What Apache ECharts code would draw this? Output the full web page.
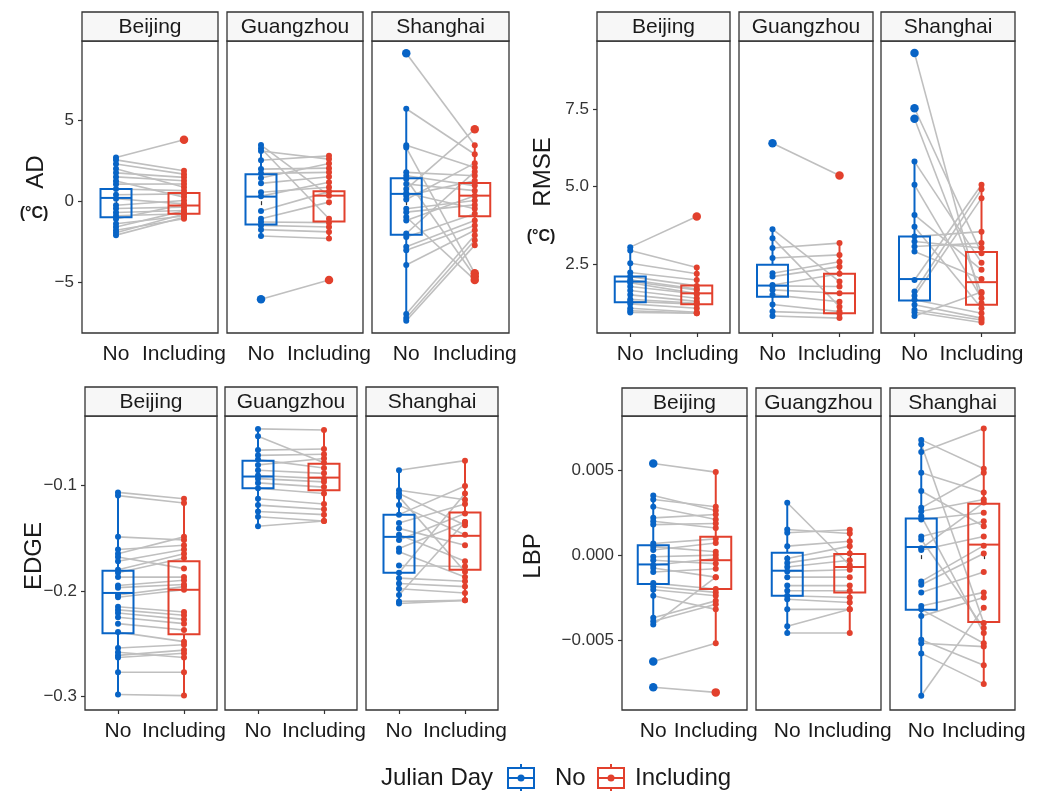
<!DOCTYPE html>
<html><head><meta charset="utf-8">
<script src="https://cdn.jsdelivr.net/npm/echarts@6/dist/echarts.min.js"></script>
<style>html,body{margin:0;padding:0;background:#fff}#c{width:1051px;height:791px}</style>
</head><body><div id="c"></div>
<script>
// ---------------- DATA ----------------
const cities = ['Beijing', 'Guangzhou', 'Shanghai'];
const conditions = ['No', 'Including'];
const metrics = ['AD', 'RMSE', 'EDGE', 'LBP'];
const legendTitle = 'Julian Day';
const unitLabel = '(°C)';

// paired values (one pair per station): No / Including
const AD_Beijing_No        = [2.70, 2.55, 2.30, 2.00, 1.75, 1.50, 1.25, 1.05, 0.75, 0.40, 0.15, -0.25, -0.45, -0.70, -0.90, -1.10, -1.40, -1.60, -1.80, -1.95, -2.10];
const AD_Beijing_Including = [3.80, 1.88, 1.67, 0.86, 1.47, 1.26, 0.25, 1.06, 0.65, 0.45, -0.17, 0.04, -0.37, -0.58, -0.78, -0.20, -0.92, -0.60, -1.09, -0.80, -1.00];
const AD_Guangzhou_No        = [3.47, 3.27, 3.10, 2.53, 1.98, 1.72, 1.43, 1.10, 0.55, 0.31, -0.61, -1.09, -1.29, -1.50, -1.76, -2.15, -6.06];
const AD_Guangzhou_Including = [0.34, -1.09, 2.60, 2.80, 2.04, 1.78, 2.33, 1.51, 0.86, 1.17, 0.59, -0.06, -1.33, -1.60, -1.90, -2.31, -4.87];
const AD_Shanghai_No        = [9.14, 5.71, 3.45, 3.31, 1.78, 1.57, 1.37, 1.06, 0.75, 0.51, 0.34, 0.10, -0.47, -0.68, -0.98, -1.19, -2.00, -2.21, -2.82, -3.03, -3.95, -6.98, -7.22, -7.39];
const AD_Shanghai_Including = [3.45, 2.90, 2.08, -4.46, 1.57, 0.96, -4.66, 0.65, 4.44, -0.47, 1.26, 2.35, 0.04, -0.23, -4.87, 0.34, 1.82, -0.78, -1.19, -1.50, -1.80, -2.11, -2.42, -2.72];

const RMSE_Beijing_No        = [3.05, 2.94, 2.53, 2.23, 2.10, 2.00, 1.94, 1.90, 1.78, 1.65, 1.51, 1.37, 1.30, 1.22, 1.08, 1.00, 0.94];
const RMSE_Beijing_Including = [4.04, 2.39, 2.19, 1.99, 1.80, 1.70, 1.67, 1.55, 1.54, 1.40, 1.30, 1.24, 1.21, 1.08, 0.95, 0.92, 0.92];
const RMSE_Guangzhou_No        = [6.40, 3.63, 3.34, 3.02, 2.70, 2.21, 2.10, 1.83, 1.80, 1.67, 1.51, 1.20, 0.97, 0.83];
const RMSE_Guangzhou_Including = [5.36, 1.94, 1.13, 3.18, 2.80, 2.58, 2.42, 2.19, 1.78, 1.56, 1.29, 0.97, 0.90, 0.76];
const RMSE_Shanghai_No        = [9.31, 7.53, 7.19, 5.81, 5.06, 4.09, 3.71, 3.39, 3.23, 3.07, 2.91, 1.99, 1.62, 1.48, 1.35, 1.19, 1.03, 0.95, 0.83];
const RMSE_Shanghai_Including = [1.24, 2.85, 1.56, 2.55, 1.40, 2.32, 1.08, 3.55, 3.02, 3.18, 2.02, 5.06, 4.92, 4.63, 0.92, 0.76, 0.70, 0.62, 1.60];

const EDGE_Beijing_No        = [-0.107, -0.110, -0.149, -0.161, -0.165, -0.168, -0.172, -0.180, -0.183, -0.187, -0.195, -0.197, -0.204, -0.206, -0.215, -0.218, -0.221, -0.225, -0.231, -0.239, -0.254, -0.258, -0.261, -0.263, -0.277, -0.298];
const EDGE_Beijing_Including = [-0.113, -0.117, -0.152, -0.157, -0.149, -0.179, -0.161, -0.165, -0.169, -0.187, -0.190, -0.194, -0.196, -0.199, -0.220, -0.223, -0.227, -0.231, -0.237, -0.248, -0.251, -0.263, -0.256, -0.259, -0.277, -0.299];
const EDGE_Guangzhou_No        = [-0.047, -0.054, -0.067, -0.072, -0.076, -0.081, -0.086, -0.091, -0.094, -0.098, -0.103, -0.113, -0.119, -0.125, -0.130, -0.139];
const EDGE_Guangzhou_Including = [-0.048, -0.079, -0.066, -0.071, -0.084, -0.075, -0.089, -0.094, -0.097, -0.102, -0.108, -0.118, -0.123, -0.128, -0.134, -0.134];
const EDGE_Shanghai_No        = [-0.086, -0.105, -0.108, -0.111, -0.119, -0.128, -0.136, -0.141, -0.147, -0.152, -0.160, -0.163, -0.176, -0.183, -0.188, -0.193, -0.198, -0.204, -0.210, -0.212];
const EDGE_Shanghai_Including = [-0.077, -0.114, -0.138, -0.182, -0.147, -0.101, -0.118, -0.157, -0.172, -0.127, -0.135, -0.187, -0.177, -0.108, -0.191, -0.196, -0.202, -0.135, -0.209, -0.209];

const LBP_Beijing_No        = [0.00541, 0.00352, 0.00328, 0.00285, 0.00220, 0.00200, 0.00180, 0.00069, 0.00050, 0.00030, -0.00010, -0.00030, -0.00060, -0.00076, -0.00100, -0.00165, -0.00185, -0.00204, -0.00240, -0.00370, -0.00390, -0.00410, -0.00628, -0.00780];
const LBP_Beijing_Including = [0.00490, 0.00263, 0.00285, 0.00210, 0.00240, 0.00160, 0.00187, 0.00096, 0.00020, 0.00072, 0.00000, -0.00050, -0.00020, -0.00130, -0.00080, -0.00200, -0.00220, -0.00240, -0.00320, -0.00270, -0.00290, -0.00130, -0.00520, -0.00810];
const LBP_Guangzhou_No        = [0.00309, 0.00151, 0.00132, 0.00053, -0.00020, -0.00046, -0.00070, -0.00096, -0.00130, -0.00180, -0.00210, -0.00240, -0.00260, -0.00320, -0.00420, -0.00460];
const LBP_Guangzhou_Including = [-0.00060, 0.00128, 0.00150, 0.00082, 0.00053, 0.00010, -0.00030, -0.00086, -0.00130, -0.00180, -0.00210, -0.00250, -0.00280, -0.00320, -0.00320, -0.00460];
const LBP_Shanghai_No        = [0.00680, 0.00654, 0.00608, 0.00486, 0.00378, 0.00279, 0.00259, 0.00230, 0.00210, 0.00110, 0.00092, 0.00040, 0.00030, -0.00155, -0.00175, -0.00220, -0.00300, -0.00320, -0.00360, -0.00500, -0.00520, -0.00580, -0.00830];
const LBP_Shanghai_Including = [0.00510, -0.00400, 0.00747, 0.00370, 0.00170, 0.00486, 0.00328, -0.00460, 0.00250, 0.00200, -0.00430, 0.00310, 0.00110, 0.00056, 0.00010, -0.00100, -0.00220, -0.00520, -0.00250, -0.00650, -0.00540, -0.00760, -0.00310];

// box statistics [lower whisker, Q1, median, Q3, upper whisker], per city (Beijing, Guangzhou, Shanghai)
const AD_box_No          = [[-2.10, -1.00, 0.20, 0.75, 2.70], [-2.20, -1.44, 0.28, 1.67, 3.47], [-7.40, -2.07, 0.45, 1.41, 5.71]];
const AD_box_Including   = [[-1.10, -0.78, -0.27, 0.51, 1.90], [-2.35, -1.25, 0.34, 0.61, 2.80], [-2.75, -0.94, 0.34, 1.12, 3.45]];
const RMSE_box_No        = [[0.92, 1.27, 1.94, 2.10, 3.05], [0.83, 1.45, 1.81, 2.48, 3.63], [0.83, 1.33, 2.02, 3.39, 5.81]];
const RMSE_box_Including = [[0.90, 1.21, 1.56, 1.81, 2.39], [0.75, 0.92, 1.56, 2.19, 3.18], [0.62, 1.19, 1.92, 2.89, 5.06]];
const EDGE_box_No        = [[-0.298, -0.240, -0.202, -0.181, -0.107], [-0.139, -0.103, -0.092, -0.077, -0.047], [-0.212, -0.183, -0.149, -0.128, -0.086]];
const EDGE_box_Including = [[-0.300, -0.241, -0.199, -0.172, -0.112], [-0.134, -0.105, -0.093, -0.080, -0.048], [-0.209, -0.180, -0.148, -0.126, -0.077]];
const LBP_box_No         = [[-0.0041, -0.0017, -0.00055, 0.00058, 0.0035], [-0.0046, -0.0024, -0.00092, 0.00014, 0.0031], [-0.0083, -0.00322, 0.00048, 0.00216, 0.0068]];
const LBP_box_Including  = [[-0.0052, -0.0020, -0.0003, 0.00108, 0.0049], [-0.0046, -0.0022, -0.0007, 0.00006, 0.0015], [-0.0076, -0.00395, 0.00062, 0.00303, 0.0075]];

// y-axis ranges and tick values
const AD_range = [-8.15, 9.9];
const RMSE_range = [0.28, 9.70];
const EDGE_range = [-0.3126, -0.0348];
const LBP_range = [-0.00914, 0.00821];
const AD_ticks = [-5, 0, 5];
const RMSE_ticks = [2.5, 5.0, 7.5];
const EDGE_ticks = [-0.3, -0.2, -0.1];
const LBP_ticks = [-0.005, 0, 0.005];
const tickDecimals = {AD: 0, RMSE: 1, EDGE: 1, LBP: 3};

// ---------------- LAYOUT / STYLE ----------------
const BLUE = '#0864c6', RED = '#e2402d', GREY = '#bfbfbf', INK = '#1a1a1a';
const FONT = '"Liberation Sans", Arial, sans-serif';
const LAYOUT = {
  AD:   {top: 41,  bottom: 333, stripTop: 12,  xs: [[82,218],[227,363],[372,509]],  title: [36,172],  unit: [34,214]},
  RMSE: {top: 41,  bottom: 333, stripTop: 12,  xs: [[597,730],[739,873],[881,1015]], title: [543,172], unit: [541,237]},
  EDGE: {top: 416, bottom: 710, stripTop: 387, xs: [[85,217],[225,357],[366,498]],   title: [34,556]},
  LBP:  {top: 416, bottom: 710, stripTop: 388, xs: [[622,747],[756,881],[890,1015]], title: [533,556]}
};

// ---------------- BUILD ----------------
const SRC = {
  AD:   {range: AD_range, ticks: AD_ticks, box: [AD_box_No, AD_box_Including],
         pairs: [[AD_Beijing_No, AD_Beijing_Including], [AD_Guangzhou_No, AD_Guangzhou_Including], [AD_Shanghai_No, AD_Shanghai_Including]]},
  RMSE: {range: RMSE_range, ticks: RMSE_ticks, box: [RMSE_box_No, RMSE_box_Including],
         pairs: [[RMSE_Beijing_No, RMSE_Beijing_Including], [RMSE_Guangzhou_No, RMSE_Guangzhou_Including], [RMSE_Shanghai_No, RMSE_Shanghai_Including]]},
  EDGE: {range: EDGE_range, ticks: EDGE_ticks, box: [EDGE_box_No, EDGE_box_Including],
         pairs: [[EDGE_Beijing_No, EDGE_Beijing_Including], [EDGE_Guangzhou_No, EDGE_Guangzhou_Including], [EDGE_Shanghai_No, EDGE_Shanghai_Including]]},
  LBP:  {range: LBP_range, ticks: LBP_ticks, box: [LBP_box_No, LBP_box_Including],
         pairs: [[LBP_Beijing_No, LBP_Beijing_Including], [LBP_Guangzhou_No, LBP_Guangzhou_Including], [LBP_Shanghai_No, LBP_Shanghai_Including]]}
};

function fmt(v, d) {
  const s = Math.abs(v).toFixed(d);
  return (v < 0 && Math.abs(v) > 1e-12) ? '\u2212' + s : s;
}

const grid = [], xAxis = [], yAxis = [], series = [], graphic = [];
const BOXW = 31;

metrics.forEach((m, mi) => {
  const L = LAYOUT[m], S = SRC[m];
  const span = S.range[1] - S.range[0];
  cities.forEach((city, ci) => {
    const k = mi * 3 + ci;
    const [x0, x1] = L.xs[ci];
    grid.push({left: x0, top: L.top, width: x1 - x0, height: L.bottom - L.top,
      show: true, borderColor: '#333', borderWidth: 1.3, backgroundColor: '#fff'});
    xAxis.push({type: 'category', gridIndex: k, data: conditions, boundaryGap: true,
      axisLine: {show: false},
      axisTick: {show: true, alignWithLabel: true, length: 4, lineStyle: {color: '#333', width: 1.2}},
      axisLabel: {show: true, interval: 0, margin: 11, fontSize: 21, color: INK, fontFamily: FONT},
      splitLine: {show: false}});
    const first = ci === 0;
    yAxis.push({type: 'value', gridIndex: k, min: S.range[0], max: S.range[1],
      axisLine: {show: false}, splitLine: {show: false},
      axisTick: {show: first, length: 4, lineStyle: {color: '#333', width: 1.2}, customValues: S.ticks},
      axisLabel: {show: first, margin: 8, fontSize: 17, color: '#333', fontFamily: FONT,
        customValues: S.ticks, formatter: v => fmt(v, tickDecimals[m])}});

    const no = S.pairs[ci][0], inc = S.pairs[ci][1];
    // connecting lines
    series.push({type: 'custom', xAxisIndex: k, yAxisIndex: k, z: 1, silent: true,
      encode: {x: [0, 2], y: [1, 3]},
      data: no.map((v, i) => [0, v, 1, inc[i]]),
      renderItem: (params, api) => {
        const p0 = api.coord([api.value(0), api.value(1)]);
        const p1 = api.coord([api.value(2), api.value(3)]);
        return {type: 'line', shape: {x1: p0[0], y1: p0[1], x2: p1[0], y2: p1[1]},
          style: {stroke: GREY, lineWidth: 1.6}};
      }});
    // boxes
    const boxNo = S.box[0][ci], boxInc = S.box[1][ci];
    series.push({type: 'custom', xAxisIndex: k, yAxisIndex: k, z: 2, silent: true,
      encode: {x: 0, y: [1, 2, 3, 4, 5]},
      data: [[0].concat(boxNo), [1].concat(boxInc)],
      renderItem: (params, api) => {
        const c = api.value(0);
        const col = c === 0 ? BLUE : RED;
        const P = [1,2,3,4,5].map(d => api.coord([c, api.value(d)]));
        const cx = P[0][0];
        const st = {stroke: col, lineWidth: 2, fill: null};
        return {type: 'group', children: [
          {type: 'line', shape: {x1: cx, y1: P[4][1], x2: cx, y2: P[3][1]}, style: st},
          {type: 'line', shape: {x1: cx, y1: P[1][1], x2: cx, y2: P[0][1]}, style: st},
          {type: 'rect', shape: {x: cx - BOXW/2, y: P[3][1], width: BOXW, height: P[1][1] - P[3][1]}, style: {stroke: col, lineWidth: 2, fill: 'rgba(0,0,0,0)'}},
          {type: 'line', shape: {x1: cx - BOXW/2, y1: P[2][1], x2: cx + BOXW/2, y2: P[2][1]}, style: st}
        ]};
      }});
    // outliers (beyond whiskers) drawn larger
    const eps = span * 0.002;
    const outNo = no.filter(v => v < boxNo[0] - eps || v > boxNo[4] + eps).map(v => [0, v]);
    const outInc = inc.filter(v => v < boxInc[0] - eps || v > boxInc[4] + eps).map(v => [1, v]);
    series.push({type: 'scatter', xAxisIndex: k, yAxisIndex: k, z: 3, silent: true,
      symbolSize: 8.5, itemStyle: {color: BLUE, opacity: 1}, data: outNo});
    series.push({type: 'scatter', xAxisIndex: k, yAxisIndex: k, z: 3, silent: true,
      symbolSize: 8.5, itemStyle: {color: RED, opacity: 1}, data: outInc});
    // points
    series.push({type: 'scatter', xAxisIndex: k, yAxisIndex: k, z: 4, silent: true,
      symbolSize: 6, itemStyle: {color: BLUE, opacity: 1}, data: no.map(v => [0, v])});
    series.push({type: 'scatter', xAxisIndex: k, yAxisIndex: k, z: 4, silent: true,
      symbolSize: 6, itemStyle: {color: RED, opacity: 1}, data: inc.map(v => [1, v])});

    // strip
    graphic.push({type: 'rect', shape: {x: x0, y: L.stripTop, width: x1 - x0, height: L.top - L.stripTop},
      style: {fill: '#f7f7f7', stroke: '#333', lineWidth: 1.3}, z: 10});
    graphic.push({type: 'text', x: (x0 + x1) / 2, y: (L.stripTop + L.top) / 2 + 1, z: 11,
      style: {text: city, font: '21px ' + FONT, fill: INK, textAlign: 'center', textVerticalAlign: 'middle'}});
  });
  // y title
  graphic.push({type: 'text', x: L.title[0], y: L.title[1], rotation: Math.PI / 2, z: 11,
    style: {text: m, font: '24px ' + FONT, fill: INK, textAlign: 'center', textVerticalAlign: 'middle'}});
  if (L.unit) {
    graphic.push({type: 'text', x: L.unit[0], y: L.unit[1], z: 11,
      style: {text: unitLabel, font: 'bold 16px ' + FONT, fill: INK, textAlign: 'center', textVerticalAlign: 'middle'}});
  }
});

// legend
const LY = 778;
graphic.push({type: 'text', x: 381, y: LY, style: {text: legendTitle, font: '24px ' + FONT, fill: INK, textVerticalAlign: 'middle'}});
[[521, BLUE, conditions[0], 555], [611, RED, conditions[1], 635]].forEach(([cx, col, label, tx]) => {
  graphic.push({type: 'line', shape: {x1: cx, y1: 764, x2: cx, y2: 791}, style: {stroke: col, lineWidth: 2}});
  graphic.push({type: 'rect', shape: {x: cx - 13, y: 768, width: 26, height: 20}, style: {stroke: col, lineWidth: 2, fill: '#fff'}});
  graphic.push({type: 'line', shape: {x1: cx - 13, y1: LY, x2: cx + 13, y2: LY}, style: {stroke: col, lineWidth: 2}});
  graphic.push({type: 'circle', shape: {cx: cx, cy: LY, r: 3.5}, style: {fill: col}});
  graphic.push({type: 'text', x: tx, y: LY, style: {text: label, font: '24px ' + FONT, fill: INK, textVerticalAlign: 'middle'}});
});

const chart = echarts.init(document.getElementById('c'), null, {renderer: 'canvas'});
chart.setOption({animation: false, backgroundColor: '#fff', grid, xAxis, yAxis, series, graphic});
</script></body></html>
